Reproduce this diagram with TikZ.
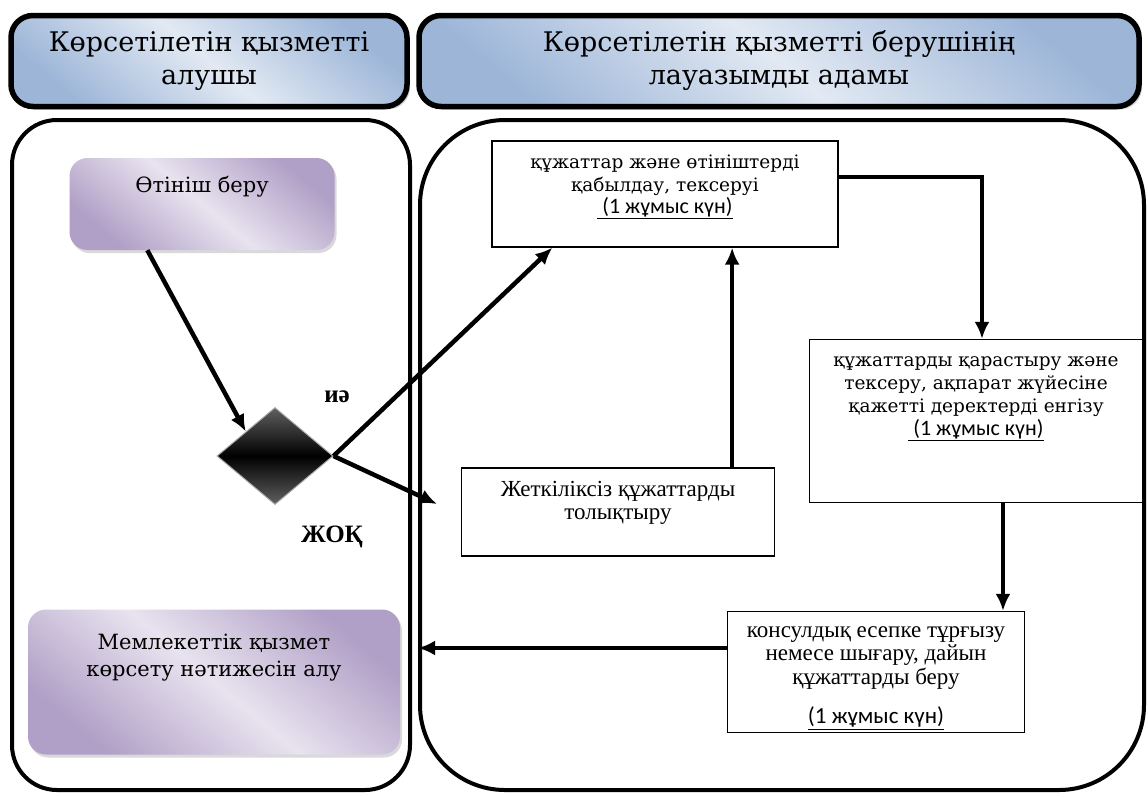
\documentclass[tikz,border=0pt]{standalone}
\usepackage{fontspec}
\setmainfont{DejaVu Serif}
\newfontfamily\dayfont{Carlito}
\newfontfamily\timesfont{Liberation Serif}
\usetikzlibrary{positioning,shapes.geometric,shadows,arrows.meta}
\definecolor{hdblue}{HTML}{9DB6D8}
\definecolor{hdlight}{HTML}{E2E9F3}
\definecolor{lilac}{HTML}{B09FC6}
\definecolor{lilaclight}{HTML}{E8E3EF}
\tikzset{
  header/.style={draw,line width=5.5pt,rounded corners=22pt,top color=hdblue,bottom color=hdblue,middle color=hdlight,
    shading angle=-40,drop shadow={opacity=0.35,shadow xshift=3pt,shadow yshift=-3pt},
    align=center,inner sep=0pt,font=\fontsize{27}{33}\selectfont},
  lane/.style={draw,line width=4pt,inner sep=0pt},
  actbox/.style={rounded corners=18pt,top color=lilac,bottom color=lilac,middle color=lilaclight,
    shading angle=-40,drop shadow={opacity=0.3,shadow xshift=2pt,shadow yshift=-3pt},inner sep=0pt},
  acttext/.style={align=center,font=\fontsize{21}{27}\selectfont},
  decision/.style={diamond,draw=gray!70,line width=1pt,inner sep=0pt,top color=gray!75!black,
    bottom color=gray!75!black,middle color=black},
  stepbox/.style={draw,fill=white,line width=1.3pt,inner sep=0pt},
  steptext/.style={align=center,font=\fontsize{18.5}{22.5}\selectfont},
  flow/.style={->,line width=4.5pt},
  answer/.style={font=\timesfont\bfseries\fontsize{25}{28}\selectfont}
}
\newcommand\workday{{\dayfont\underline{ (1 жұмыс күн)}}}
\begin{document}
\begin{tikzpicture}[x=1pt,y=-1pt,>={Latex[length=17pt,width=15pt]}]
\useasboundingbox (0,0) rectangle (1148,796);
% swimlanes
\node[lane,rounded corners=45pt,minimum width=398pt,minimum height=670pt] (llane) at (211,455) {};
\node[lane,rounded corners=85pt,minimum width=724pt,minimum height=670pt] (rlane) at (782,455) {};
\node[header,minimum width=396pt,minimum height=91pt] (hleft) at (209,61) {Көрсетілетін қызметті\\алушы};
\node[header,minimum width=720pt,minimum height=91pt] (hright) at (779,61) {Көрсетілетін қызметті берушінің\\лауазымды адамы};
% service receiver
\node[actbox,minimum width=265pt,minimum height=92pt] (app) at (202,204) {};
\node[acttext,below=15pt of app.north] (appt) {Өтініш беру};
\node[actbox,minimum width=372pt,minimum height=145pt] (res) at (214,682) {};
\node[acttext,below=21pt of res.north] (rest) {Мемлекеттік қызмет\\көрсету нәтижесін алу};
\node[decision,minimum width=116pt,minimum height=97pt] (dec) at (275,456) {};
\node[answer] (yes) at (337,397) {иә};
\node[answer] (no) at (332,537) {ЖОҚ};
\coordinate (noend) at (437,504);
% officer
\node[stepbox,minimum width=346pt,minimum height=106pt] (acc) at (665,194) {};
\node[steptext,below=11pt of acc.north] (acct) {құжаттар және өтініштерді\\қабылдау, тексеруі\\{\fontsize{22}{22}\selectfont\workday}};
\node[stepbox,minimum width=333pt,minimum height=163pt] (check) at (976,421) {};
\node[steptext,font=\fontsize{18.5}{23}\selectfont,below=14pt of check.north] (checkt) {құжаттарды қарастыру және\\тексеру, ақпарат жүйесіне\\қажетті деректерді енгізу\\{\fontsize{22}{22}\selectfont\workday}};
\node[stepbox,minimum width=313pt,minimum height=88pt] (add) at (618,512) {};
\node[steptext,font=\timesfont\fontsize{23}{23}\selectfont,below=10pt of add.north] (addt) {Жеткіліксіз құжаттарды\\толықтыру};
\node[stepbox,minimum width=297pt,minimum height=121pt] (issue) at (876,672) {};
\node[steptext,font=\timesfont\fontsize{23}{23.5}\selectfont,below=12pt of issue.north] (issuet) {консулдық есепке тұрғызу\\немесе шығару, дайын\\құжаттарды беру\\[16pt]{\dayfont\underline{(1 жұмыс күн)}}};
% flows
\draw[flow] ([xshift=78pt]app.south west) -- (dec.north west);
\draw[flow] (dec.east) -- ([xshift=61pt]acc.south west);
\draw[flow] (dec.east) -- (noend);
\draw[flow] ([xshift=-43pt]add.north east) -- ([xshift=-43pt]add.north east |- acc.south);
\draw[flow] ([yshift=17pt]acc.east) -| ([xshift=6pt]check.north);
\draw[flow] ([xshift=27pt]check.south) -- ([xshift=27pt]check.south |- issue.north);
\draw[flow] ([yshift=24pt]issue.west) -- ([yshift=24pt]issue.west -| rlane.west);
\end{tikzpicture}
\end{document}
